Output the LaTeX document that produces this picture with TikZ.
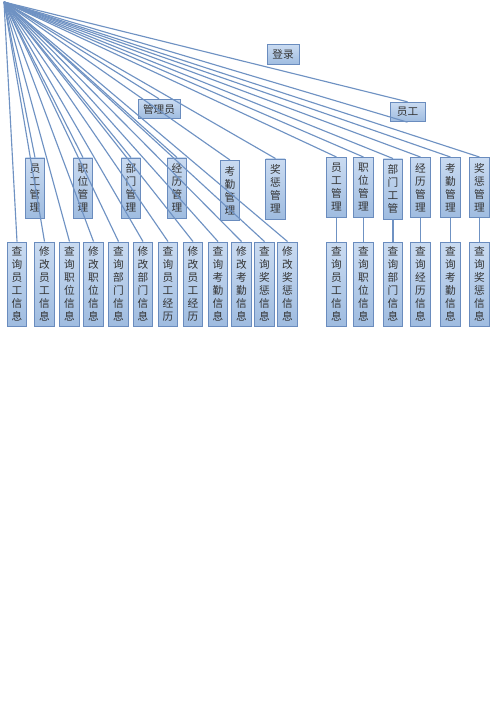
\documentclass[tikz,border=0pt]{standalone}
\usepackage{fontspec}
\newfontfamily\cjk{Noto Sans CJK SC}
\definecolor{boxline}{HTML}{6A8CBE}
\definecolor{boxtop}{HTML}{CADBF1}
\definecolor{boxbot}{HTML}{9FBCE0}
\definecolor{lineblue}{HTML}{6F92C3}
\begin{document}
\begin{tikzpicture}[x=0.75pt,y=-0.75pt,
  bx/.style={draw=boxline, line width=0.7pt, top color=boxtop, bottom color=boxbot, inner sep=0pt, align=center, font=\cjk\fontsize{8}{9.75}\selectfont, text=black!80},
  vb/.style={bx, minimum width=14.6pt, minimum height=63pt},
  mb/.style={bx, minimum width=14.6pt, minimum height=45pt},
  hb/.style={bx, minimum height=14.6pt},
  conn/.style={draw=lineblue, line width=0.85pt}]
\useasboundingbox[fill=white] (0,0) rectangle (496,702);
\coordinate (o) at (4,2);
% top boxes
\node[hb, minimum width=24pt] (login) at (283,54.5) {登录};
\node[hb, minimum width=31.5pt] (admin) at (159,109) {管理员};
\node[hb, minimum width=26.25pt] (emp) at (407.5,112) {员工};
% left management boxes
\node[mb] (lm1) at (35,188) {员\\工\\管\\理};
\node[mb] (lm2) at (83,188) {职\\位\\管\\理};
\node[mb] (lm3) at (131,188) {部\\门\\管\\理};
\node[mb] (lm4) at (177,188) {经\\历\\管\\理};
\node[mb] (lm5) at (230,190.5) {考\\勤\\管\\理};
\node[mb] (lm6) at (275.5,189) {奖\\惩\\管\\理};
% left bottom boxes
\node[vb] (lq1) at (17,284) {查\\询\\员\\工\\信\\息};
\node[vb] (lq2) at (44.5,284) {修\\改\\员\\工\\信\\息};
\node[vb] (lq3) at (69.5,284) {查\\询\\职\\位\\信\\息};
\node[vb] (lq4) at (93.5,284) {修\\改\\职\\位\\信\\息};
\node[vb] (lq5) at (118.5,284) {查\\询\\部\\门\\信\\息};
\node[vb] (lq6) at (143,284) {修\\改\\部\\门\\信\\息};
\node[vb] (lq7) at (168,284) {查\\询\\员\\工\\经\\历};
\node[vb] (lq8) at (193,284) {修\\改\\员\\工\\经\\历};
\node[vb] (lq9) at (218,284) {查\\询\\考\\勤\\信\\息};
\node[vb] (lq10) at (241.5,284) {修\\改\\考\\勤\\信\\息};
\node[vb] (lq11) at (264.5,284) {查\\询\\奖\\惩\\信\\息};
\node[vb] (lq12) at (287.5,284) {修\\改\\奖\\惩\\信\\息};
% right management boxes
\node[mb] (rm1) at (336.5,187.5) {员\\工\\管\\理};
\node[mb] (rm2) at (363.5,187.5) {职\\位\\管\\理};
\node[mb] (rm3) at (393,189) {部\\门\\工\\管};
\node[mb] (rm4) at (420.5,187.5) {经\\历\\管\\理};
\node[mb] (rm5) at (450.5,187.5) {考\\勤\\管\\理};
\node[mb] (rm6) at (479.5,187.5) {奖\\惩\\管\\理};
% right bottom boxes
\node[vb] (rq1) at (336.5,284) {查\\询\\员\\工\\信\\息};
\node[vb] (rq2) at (363.5,284) {查\\询\\职\\位\\信\\息};
\node[vb] (rq3) at (393,284) {查\\询\\部\\门\\信\\息};
\node[vb] (rq4) at (420.5,284) {查\\询\\经\\历\\信\\息};
\node[vb] (rq5) at (450.5,284) {查\\询\\考\\勤\\信\\息};
\node[vb] (rq6) at (479.5,284) {查\\询\\奖\\惩\\信\\息};
% connectors
\foreach \n in {lq1,lq2,lq3,lq4,lq5,lq6,lq7,lq8,lq9,lq10,lq11,lq12,lm1,lm2,lm3,lm4,lm5,lm6,admin,emp,rm1,rm2,rm3,rm4,rm5,rm6}
  \draw[conn] (o) -- (\n.north);
\draw[conn] (o) -- (emp.south);
\foreach \i in {1,...,6}
  \draw[conn] (rm\i.south) -- (rq\i.north);
\end{tikzpicture}
\end{document}
